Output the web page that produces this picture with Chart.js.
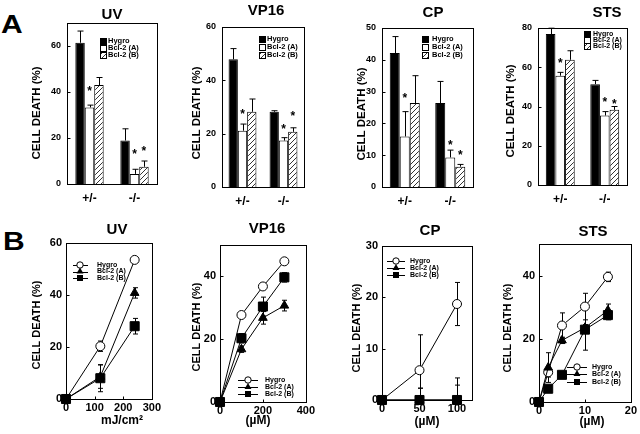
<!DOCTYPE html>
<html>
<head>
<meta charset="utf-8">
<script src="https://cdn.jsdelivr.net/npm/chart.js@4/dist/chart.umd.min.js"></script>
<style>
  body { margin: 0; background: #fff; width: 640px; height: 434px; overflow: hidden; position: relative; }
  canvas { position: absolute; }
  .tag { position: absolute; font: bold 25px Arial, "Liberation Sans", sans-serif; line-height: 25px; color: #000; transform: scaleX(1.2); transform-origin: left top; }
</style>
</head>
<body>
<div class="tag" style="left:1px;top:12px">A</div>
<div class="tag" style="left:3px;top:229px">B</div>
<script>
// ---- data ----
const groups = ["+/-", "-/-"];
const seriesNames = ["Hygro", "Bcl-2 (A)", "Bcl-2 (B)"];

// panel A, bars: mean, error, asterisk heights
const uvA_hygro = [61.4, 18.9], uvA_hygroErr = [5.1, 5.1];
const uvA_bclA = [33.3, 4.4], uvA_bclAErr = [1, 2];
const uvA_bclB = [43, 7.5], uvA_bclBErr = [3.3, 2.5];
const uvA_starA = [41.5, 14], uvA_starB = [null, 15.5];

const vp16A_hygro = [47.9, 28.2], vp16A_hygroErr = [4, 0.4];
const vp16A_bclA = [21.1, 17.4], vp16A_bclAErr = [2.5, 1.1];
const vp16A_bclB = [28.2, 20.7], vp16A_bclBErr = [4.8, 1.5];
const vp16A_starA = [28.2, 22.6], vp16A_starB = [null, 27.4];

const cpA_hygro = [42.1, 26.4], cpA_hygroErr = [5.2, 6.8];
const cpA_bclA = [15.9, 9.3], cpA_bclAErr = [7.8, 2.3];
const cpA_bclB = [26.4, 6.4], cpA_bclBErr = [8.6, 0.7];
const cpA_starA = [28.8, 13.9], cpA_starB = [null, 10.9];

const stsA_hygro = [76.9, 51.4], stsA_hygroErr = [3, 1.9];
const stsA_bclA = [55.7, 35.4], stsA_bclAErr = [1.7, 2];
const stsA_bclB = [63.8, 38.3], stsA_bclBErr = [4.6, 1.7];
const stsA_starA = [63.3, 43.4], stsA_starB = [null, 42.6];

// panel B, dose response
const uvDose = [0, 120, 240];
const uvB_hygro = [0, 20.3, 53.5], uvB_hygroErr = [0, 2, 0.5];
const uvB_bclA = [0, 8.6, 40.8], uvB_bclAErr = [0, 4.5, 2];
const uvB_bclB = [0, 8, 28], uvB_bclBErr = [0, 5.2, 3];

const vp16Dose = [0, 100, 200, 300];
const vp16B_hygro = [0, 27.7, 36.8, 44.8], vp16B_hygroErr = [0, 0.5, 0.5, 0.5];
const vp16B_bclA = [0, 16.8, 26.8, 30.7], vp16B_bclAErr = [0, 1, 2, 1.7];
const vp16B_bclB = [0, 20.3, 30.4, 39.7], vp16B_bclBErr = [0, 1.5, 3, 1.5];

const cpDose = [0, 50, 100];
const cpB_hygro = [0, 5.8, 18.7], cpB_hygroErr = [0, 6.9, 4.2];
const cpB_bclA = [0, 0, 0], cpB_bclAErr = [0, 2.3, 2.9];
const cpB_bclB = [0, 0, 0], cpB_bclBErr = [0, 2.3, 4.3];

const stsDose = [0, 2, 5, 10, 15];
const stsB_hygro = [0, 9.4, 24.2, 30.2, 39.6], stsB_hygroErr = [0, 1.5, 4, 4.2, 1.5];
const stsB_bclA = [0, 10.9, 19.5, 23.5, 29], stsB_bclAErr = [0, 4.7, 1, 1, 2];
const stsB_bclB = [0, 4.2, 8.6, 22.9, 27.5], stsB_bclBErr = [0, 0.5, 0.5, 6.5, 1.5];

// tick labels
const yTicks20to60 = [0, 20, 40, 60];
const yTicksCpA = [0, 10, 20, 30, 40, 50];
const yTicksStsA = [0, 20, 40, 60, 80];
const yTicks20to40 = [0, 20, 40];
const yTicksCpB = [0, 10, 20, 30];
const xTicksUv = [0, 100, 200, 300];
const xTicksVp16 = [0, 200, 400];
const xTicksCp = [0, 50, 100];
const xTicksSts = [0, 10, 20];

// ---- drawing ----
const PL = 55, PT = 30, PR = 8, PB = 40;
const FONT = "Arial, 'Liberation Sans', sans-serif";

const hatch = (() => {
  const c = document.createElement("canvas");
  c.width = 5; c.height = 5;
  const g = c.getContext("2d");
  g.fillStyle = "#fff"; g.fillRect(0, 0, 5, 5);
  g.strokeStyle = "#000"; g.lineWidth = 0.8;
  g.beginPath();
  g.moveTo(0, 5); g.lineTo(5, 0);
  g.moveTo(-1, 1); g.lineTo(1, -1);
  g.moveTo(4, 6); g.lineTo(6, 4);
  g.stroke();
  return g.createPattern(c, "repeat");
})();

function addCanvas(box) {
  const c = document.createElement("canvas");
  const w = box[2] - box[0] + PL + PR, h = box[3] - box[1] + PT + PB;
  c.width = w; c.height = h;
  c.style.width = w + "px"; c.style.height = h + "px";
  c.style.left = (box[0] - PL) + "px"; c.style.top = (box[1] - PT) + "px";
  document.body.appendChild(c);
  return c;
}

function drawMarker(ctx, style, x, y, r) {
  ctx.beginPath();
  if (style === "circle") {
    ctx.arc(x, y, r, 0, Math.PI * 2);
    ctx.fillStyle = "#fff"; ctx.fill(); ctx.stroke();
  } else if (style === "triangle") {
    ctx.moveTo(x, y - r); ctx.lineTo(x + r * 0.87, y + r * 0.5); ctx.lineTo(x - r * 0.87, y + r * 0.5);
    ctx.closePath(); ctx.fillStyle = "#000"; ctx.fill();
  } else {
    ctx.rect(x - r, y - r, 2 * r, 2 * r);
    ctx.fillStyle = "#000"; ctx.fill();
  }
}

function panelPlugin(p) {
  const ox = p.box[0] - PL, oy = p.box[1] - PT;
  return {
    id: "panel",
    beforeDatasetsDraw(chart) {
      if (p.kind !== "line") return;
      const ctx = chart.ctx, y = chart.scales.y, a = chart.chartArea;
      ctx.save();
      ctx.beginPath(); ctx.rect(a.left, a.top, a.right - a.left, a.bottom - a.top + 1); ctx.clip();
      ctx.strokeStyle = "#000"; ctx.lineWidth = 1;
      chart.data.datasets.forEach((ds, i) => {
        chart.getDatasetMeta(i).data.forEach((pt, j) => {
          const e = ds.err[j];
          if (!e) return;
          const v = ds.data[j].y;
          const t = y.getPixelForValue(v + e), b = y.getPixelForValue(v - e);
          const x = Math.round(pt.x) + 0.5;
          ctx.beginPath();
          ctx.moveTo(x, t); ctx.lineTo(x, b);
          ctx.moveTo(x - 2.5, t); ctx.lineTo(x + 2.5, t);
          ctx.moveTo(x - 2.5, b); ctx.lineTo(x + 2.5, b);
          ctx.stroke();
        });
      });
      ctx.restore();
    },
    afterDatasetsDraw(chart) {
      if (p.kind !== "bar") return;
      const ctx = chart.ctx, y = chart.scales.y;
      ctx.save();
      ctx.strokeStyle = "#000"; ctx.fillStyle = "#000"; ctx.lineWidth = 1;
      ctx.font = "bold 12px " + FONT; ctx.textAlign = "center"; ctx.textBaseline = "alphabetic";
      chart.data.datasets.forEach((ds, i) => {
        chart.getDatasetMeta(i).data.forEach((bar, j) => {
          const x = Math.round(bar.x) + 0.5;
          const t = y.getPixelForValue(ds.data[j] + ds.err[j]);
          ctx.beginPath();
          ctx.moveTo(x, bar.y); ctx.lineTo(x, t);
          ctx.moveTo(x - 3, t); ctx.lineTo(x + 3, t);
          ctx.stroke();
          if (ds.stars[j] != null) ctx.fillText("*", bar.x, y.getPixelForValue(ds.stars[j]) + 6.5);
        });
      });
      ctx.restore();
    },
    afterDraw(chart) {
      const ctx = chart.ctx, a = chart.chartArea;
      ctx.save();
      ctx.strokeStyle = "#000"; ctx.fillStyle = "#000"; ctx.lineWidth = 1;
      const L = Math.round(a.left) + 0.5, T = Math.round(a.top) + 0.5;
      const R = Math.round(a.right) + 0.5, B = Math.round(a.bottom) + 0.5;
      ctx.strokeRect(L, T, R - L, B - T);
      ctx.beginPath();
      chart.scales.y.ticks.forEach(t => {
        const py = Math.round(chart.scales.y.getPixelForValue(t.value)) + 0.5;
        ctx.moveTo(L, py); ctx.lineTo(L + 3, py);
      });
      if (p.kind === "line") {
        chart.scales.x.ticks.forEach(t => {
          const px = Math.round(chart.scales.x.getPixelForValue(t.value)) + 0.5;
          ctx.moveTo(px, B); ctx.lineTo(px, B - 3);
        });
      }
      ctx.stroke();

      ctx.textAlign = "center"; ctx.textBaseline = "middle";
      ctx.font = "bold 15px " + FONT;
      ctx.fillText(p.title, p.titleX - ox, p.titleY - oy);

      ctx.save();
      ctx.translate(p.yTitleX - ox, p.yTitleY - oy);
      ctx.rotate(-Math.PI / 2);
      ctx.font = "bold " + p.yTitleSize + "px " + FONT;
      ctx.fillText("CELL DEATH (%)", 0, 0);
      ctx.restore();

      if (p.xTitle) {
        ctx.font = "bold 12px " + FONT;
        ctx.fillText(p.xTitle, p.xTitleX - ox, p.xTitleY - oy);
      }

      const lg = p.legend;
      chart.data.datasets.forEach((ds, i) => {
        const sx = lg.sym - ox, ty = lg.rows[i] - oy;
        if (p.kind === "bar") {
          ctx.fillStyle = ds.backgroundColor;
          ctx.fillRect(Math.round(sx) - 2, Math.round(ty) - 2, 5, 5);
          ctx.strokeRect(Math.round(sx) - 2.5, Math.round(ty) - 2.5, 6, 6);
        } else {
          ctx.beginPath();
          ctx.moveTo(lg.lineFrom - ox, Math.round(ty) + 0.5); ctx.lineTo(lg.lineTo - ox, Math.round(ty) + 0.5);
          ctx.stroke();
          drawMarker(ctx, ds.pointStyle, sx, ty, ds.pointStyle === "circle" ? 3.2 : (ds.pointStyle === "triangle" ? 4 : 3));
        }
        ctx.fillStyle = "#000";
        ctx.textAlign = "left";
        ctx.font = "bold " + lg.size + "px " + FONT;
        ctx.fillText(ds.label, lg.text - ox, ty);
      });
      ctx.restore();
    }
  };
}

function fixedTicks(list) {
  return s => { s.ticks = list.map(v => ({ value: v })); };
}

function barPanel(p, hygro, hygroErr, bclA, bclAErr, bclB, bclBErr, starA, starB) {
  p.kind = "bar";
  const none = groups.map(() => null);
  new Chart(addCanvas(p.box), {
    type: "bar",
    data: {
      labels: groups,
      datasets: [
        { label: seriesNames[0], data: hygro, err: hygroErr, stars: none, backgroundColor: "#000", borderColor: "#000", borderWidth: 1 },
        { label: seriesNames[1], data: bclA, err: bclAErr, stars: starA, backgroundColor: "#fff", borderColor: "#000", borderWidth: 1 },
        { label: seriesNames[2], data: bclB, err: bclBErr, stars: starB, backgroundColor: hatch, borderColor: "#000", borderWidth: 1 }
      ]
    },
    options: {
      responsive: false, animation: false, devicePixelRatio: 1,
      layout: { padding: { left: 0, top: PT, right: PR, bottom: 0 } },
      plugins: { legend: { display: false }, tooltip: { enabled: false } },
      datasets: { bar: { categoryPercentage: p.groupWidth, barPercentage: 1 } },
      scales: {
        x: {
          grid: { display: false, drawTicks: false }, border: { display: false },
          ticks: { color: "#000", font: { family: FONT, size: 12, weight: "bold" }, padding: 7 },
          afterFit(s) { s.height = PB; }
        },
        y: {
          min: 0, max: p.yMax,
          grid: { display: false, drawTicks: false }, border: { display: false },
          ticks: { color: "#000", font: { family: FONT, size: 9, weight: "bold" }, padding: 6 },
          afterBuildTicks: fixedTicks(p.yTicks),
          afterFit(s) { s.width = PL; }
        }
      }
    },
    plugins: [panelPlugin(p)]
  });
}

function linePanel(p, dose, hygro, hygroErr, bclA, bclAErr, bclB, bclBErr) {
  p.kind = "line";
  const pts = vals => dose.map((x, j) => ({ x, y: vals[j] }));
  const common = { borderColor: "#000", borderWidth: 1, pointBorderColor: "#000", pointBorderWidth: 1, tension: 0, fill: false, clip: false };
  new Chart(addCanvas(p.box), {
    type: "line",
    data: {
      datasets: [
        { ...common, label: seriesNames[0], data: pts(hygro), err: hygroErr, pointStyle: "circle", pointRadius: 4.5, pointBackgroundColor: "#fff", order: 2 },
        { ...common, label: seriesNames[1], data: pts(bclA), err: bclAErr, pointStyle: "triangle", pointRadius: 5, pointBackgroundColor: "#000", order: 1 },
        { ...common, label: seriesNames[2], data: pts(bclB), err: bclBErr, pointStyle: "rect", pointRadius: 6.4, pointBackgroundColor: "#000", order: 0 }
      ]
    },
    options: {
      responsive: false, animation: false, devicePixelRatio: 1,
      layout: { padding: { left: 0, top: PT, right: PR, bottom: 0 } },
      plugins: { legend: { display: false }, tooltip: { enabled: false } },
      scales: {
        x: {
          type: "linear", min: 0, max: p.xMax,
          grid: { display: false, drawTicks: false }, border: { display: false },
          ticks: { color: "#000", font: { family: FONT, size: 11, weight: "bold" }, padding: 2, maxRotation: 0 },
          afterBuildTicks: fixedTicks(p.xTicks),
          afterFit(s) { s.height = PB; }
        },
        y: {
          min: 0, max: p.yMax,
          grid: { display: false, drawTicks: false }, border: { display: false },
          ticks: { color: "#000", font: { family: FONT, size: 11, weight: "bold" }, padding: 4 },
          afterBuildTicks: fixedTicks(p.yTicks),
          afterFit(s) { s.width = PL; }
        }
      }
    },
    plugins: [panelPlugin(p)]
  });
}

// top row
barPanel({ box: [67, 23, 157, 184], yMax: 70, yTicks: yTicks20to60, groupWidth: 0.63,
  title: "UV", titleX: 112, titleY: 15, yTitleX: 37, yTitleY: 113, yTitleSize: 11.5,
  legend: { sym: 103, text: 108, rows: [41, 48, 55], size: 7.5 } },
  uvA_hygro, uvA_hygroErr, uvA_bclA, uvA_bclAErr, uvA_bclB, uvA_bclBErr, uvA_starA, uvA_starB);

barPanel({ box: [222, 27, 304, 187], yMax: 60, yTicks: yTicks20to60, groupWidth: 0.68,
  title: "VP16", titleX: 266, titleY: 11, yTitleX: 197, yTitleY: 113, yTitleSize: 11.5,
  legend: { sym: 262, text: 267, rows: [39, 47, 55], size: 7.5 } },
  vp16A_hygro, vp16A_hygroErr, vp16A_bclA, vp16A_bclAErr, vp16A_bclB, vp16A_bclBErr, vp16A_starA, vp16A_starB);

barPanel({ box: [382, 28, 473, 187], yMax: 50, yTicks: yTicksCpA, groupWidth: 0.66,
  title: "CP", titleX: 433, titleY: 12.5, yTitleX: 362, yTitleY: 114, yTitleSize: 11.5,
  legend: { sym: 425, text: 432, rows: [39, 47, 55], size: 7.5 } },
  cpA_hygro, cpA_hygroErr, cpA_bclA, cpA_bclAErr, cpA_bclB, cpA_bclBErr, cpA_starA, cpA_starB);

barPanel({ box: [538, 28, 627, 185], yMax: 80, yTicks: yTicksStsA, groupWidth: 0.65,
  title: "STS", titleX: 607, titleY: 12.5, yTitleX: 511, yTitleY: 111, yTitleSize: 11.5,
  legend: { sym: 587, text: 593, rows: [34, 40, 46], size: 7 } },
  stsA_hygro, stsA_hygroErr, stsA_bclA, stsA_bclAErr, stsA_bclB, stsA_bclBErr, stsA_starA, stsA_starB);

// bottom row
linePanel({ box: [66, 243, 155, 399], yMax: 60, yTicks: yTicks20to60, xMax: 300, xTicks: xTicksUv,
  title: "UV", titleX: 117, titleY: 230, yTitleX: 37, yTitleY: 325, yTitleSize: 11,
  xTitle: "mJ/cm\u00b2", xTitleX: 122, xTitleY: 421,
  legend: { lineFrom: 73, lineTo: 88, sym: 80, text: 97, rows: [265, 271.5, 278], size: 7 } },
  uvDose, uvB_hygro, uvB_hygroErr, uvB_bclA, uvB_bclAErr, uvB_bclB, uvB_bclBErr);

linePanel({ box: [220, 245, 309, 402], yMax: 50, yTicks: yTicks20to40, xMax: 400, xTicks: xTicksVp16,
  title: "VP16", titleX: 267, titleY: 229, yTitleX: 197, yTitleY: 327, yTitleSize: 11,
  xTitle: "(\u00b5M)", xTitleX: 258, xTitleY: 421,
  legend: { lineFrom: 238, lineTo: 258, sym: 248, text: 265, rows: [380, 387, 394], size: 7 } },
  vp16Dose, vp16B_hygro, vp16B_hygroErr, vp16B_bclA, vp16B_bclAErr, vp16B_bclB, vp16B_bclBErr);

linePanel({ box: [382, 246, 472, 400], yMax: 30, yTicks: yTicksCpB, xMax: 120, xTicks: xTicksCp,
  title: "CP", titleX: 430, titleY: 231, yTitleX: 357, yTitleY: 328, yTitleSize: 11,
  xTitle: "(\u00b5M)", xTitleX: 427, xTitleY: 422,
  legend: { lineFrom: 387, lineTo: 405, sym: 396, text: 410, rows: [261, 268, 275], size: 7 } },
  cpDose, cpB_hygro, cpB_hygroErr, cpB_bclA, cpB_bclAErr, cpB_bclB, cpB_bclBErr);

linePanel({ box: [539, 244, 631, 402], yMax: 50, yTicks: yTicks20to40, xMax: 20, xTicks: xTicksSts,
  title: "STS", titleX: 593, titleY: 232, yTitleX: 508, yTitleY: 328, yTitleSize: 11,
  xTitle: "(\u00b5M)", xTitleX: 592, xTitleY: 422,
  legend: { lineFrom: 567, lineTo: 587, sym: 577, text: 592, rows: [367, 374, 382], size: 7 } },
  stsDose, stsB_hygro, stsB_hygroErr, stsB_bclA, stsB_bclAErr, stsB_bclB, stsB_bclBErr);
</script>
</body>
</html>
